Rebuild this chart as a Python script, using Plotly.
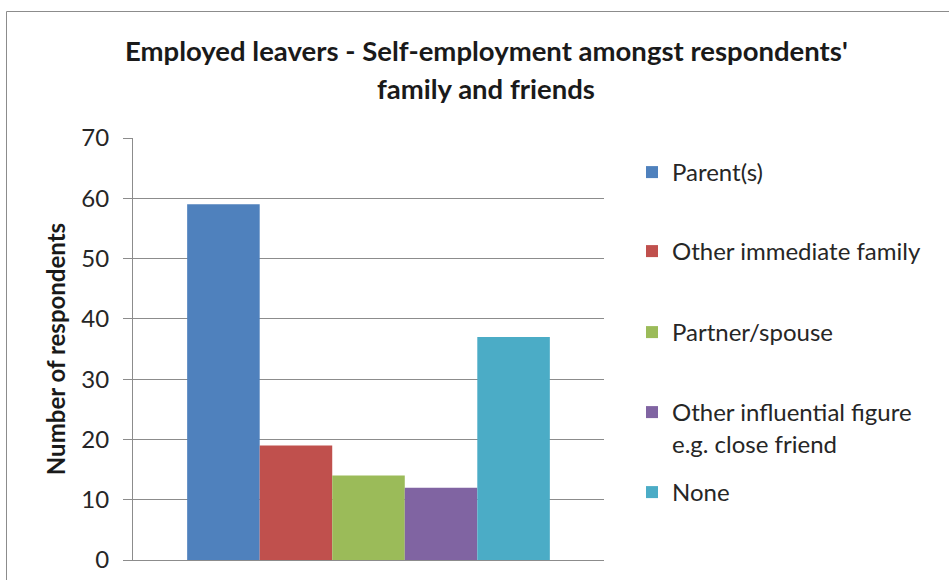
import plotly.graph_objects as go

# Chart data
categories = [""]
series_names = [
    "Parent(s)",
    "Other immediate family",
    "Partner/spouse",
    "Other influential figure<br>e.g. close friend",
    "None",
]
series_values = [59, 19, 14, 12, 37]
series_colors = ["#4F81BD", "#C0504D", "#9BBB59", "#8064A2", "#4BACC6"]
y_tick_values = [0, 10, 20, 30, 40, 50, 60, 70]
title_lines = ["Employed leavers - Self-employment amongst respondents'", "family and friends"]
y_title = "Number of respondents"

W, H = 949, 580
# plot area in pixels
PL, PR, PT, PB = 133, 604, 138, 560
GRID = "#8C8C8C"
FONT = "Lato"


def px_x(x):
    return (x - PL) / (PR - PL)


def px_y(y):
    return (PB - y) / (PB - PT)


fig = go.Figure()
legend_rows = [173, 252, 333, 413, 493]
for i, (name, val, col) in enumerate(zip(series_names, series_values, series_colors)):
    key = "legend" if i == 0 else f"legend{i + 1}"
    fig.add_trace(go.Bar(
        x=categories, y=[val], name=name, marker=dict(color=col, line=dict(width=0)),
        legend=key, hoverinfo="name+y",
    ))

layout_legends = {}
for i, row in enumerate(legend_rows):
    key = "legend" if i == 0 else f"legend{i + 1}"
    layout_legends[key] = dict(
        x=px_x(632), xanchor="left", y=px_y(row - 23), yanchor="top",
        valign="top", bgcolor="rgba(0,0,0,0)",
        font=dict(family=FONT, size=24, color="#262626"),
    )

fig.update_layout(
    width=W, height=H,
    margin=dict(l=PL, r=W - PR, t=PT, b=H - PB, autoexpand=False),
    paper_bgcolor="white", plot_bgcolor="white",
    barmode="group", bargap=0.23, bargroupgap=0,
    showlegend=True,
    font=dict(family=FONT, color="#262626"),
    xaxis=dict(showticklabels=False, ticks="", showgrid=False, showline=True,
               linecolor=GRID, linewidth=1, zeroline=False, fixedrange=True,
               automargin=False),
    yaxis=dict(range=[0, 70], tickvals=y_tick_values, ticks="outside", ticklen=9,
               tickcolor=GRID, showgrid=True, gridcolor=GRID, gridwidth=1,
               showline=True, linecolor=GRID, linewidth=1, zeroline=False,
               automargin=False,
               tickfont=dict(family=FONT, size=24, color="#262626"),
               ticklabelstandoff=9,
               title=dict(text=f"<b>{y_title}</b>", standoff=8,
                          font=dict(family=FONT, size=24, color="#1a1a1a"))),
    **layout_legends,
)

# two-line chart title
for line, ypix in zip(title_lines, [51, 88]):
    fig.add_annotation(
        text=f"<b>{line}</b>", xref="paper", yref="paper",
        x=px_x(486), y=px_y(ypix), xanchor="center", yanchor="middle",
        showarrow=False, font=dict(family=FONT, size=27.5, color="#1a1a1a"),
    )

# chart frame
fig.add_shape(type="rect", xref="paper", yref="paper",
              x0=px_x(6.5), x1=px_x(1000), y0=px_y(640), y1=px_y(11.5),
              line=dict(color=GRID, width=1), fillcolor="rgba(0,0,0,0)", layer="below")

fig.write_html("out.html")
